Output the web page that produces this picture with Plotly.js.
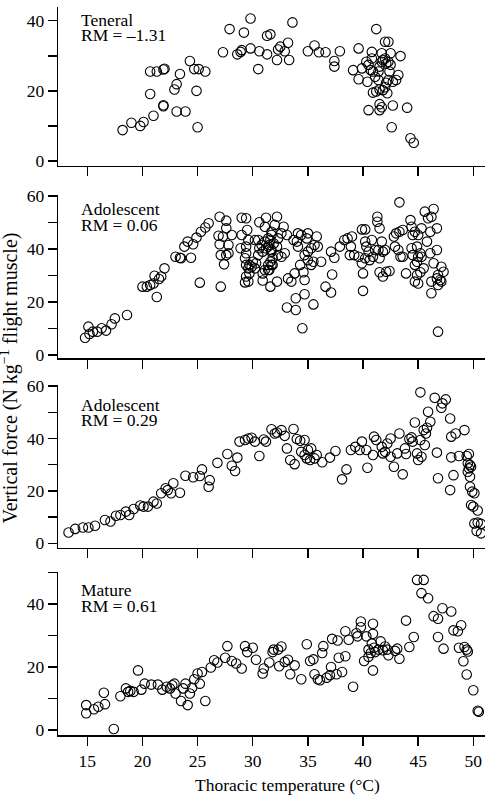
<!DOCTYPE html>
<html>
<head>
<meta charset="utf-8">
<script src="https://cdn.plot.ly/plotly-3.0.1.min.js"></script>
<style>
  html, body { margin: 0; padding: 0; background: #fff; }
  #chart { width: 488px; height: 796px; }
</style>
</head>
<body>
<div id="chart"></div>
<script>
// Thoracic temperature (°C) and vertical force (N kg^-1 flight muscle), one pair per stage

const teneralTemp = [18.2,19.0,19.8,20.1,21.0,20.7,20.7,21.3,21.9,22.0,21.9,21.9,23.1,23.9,22.9,23.1,23.4,24.3,24.7,25.1,25.7,24.9,25.0,
  27.3,27.9,28.6,28.9,29.0,29.2,29.8,29.8,30.5,30.6,31.3,31.6,31.3,33.6,33.2,32.5,32.3,32.9,32.2,33.3,35.0,35.6,36.0,36.6,37.9,37.4,37.4,
  39.6,39.1,39.6,40.4,39.9,40.3,40.8,41.2,42.0,42.3,41.7,42.5,43.4,
  40.5,40.8,40.9,41.1,41.4,41.5,41.7,41.8,42.0,42.1,42.3,42.4,42.5,42.3,42.1,42.0,41.8,41.5,41.2,40.9,42.2,42.7,43.0,43.2,41.4,40.7,
  40.5,41.5,41.5,41.7,42.7,44.0,42.6,44.3,44.6];
const teneralForce = [8.8,10.9,10.0,11.1,12.9,19.1,25.5,25.5,26.1,26.3,15.9,15.6,14.1,14.1,20.4,21.9,24.8,28.5,26.2,26.2,25.5,20.0,9.6,
  31.0,37.6,30.4,31.1,31.6,36.6,40.6,32.1,26.2,31.3,35.7,36.1,30.4,39.5,33.7,32.6,31.8,31.3,28.8,28.8,31.3,32.9,31.0,31.0,31.3,28.5,26.9,
  32.1,25.9,23.3,22.6,26.4,28.3,31.1,37.6,34.0,34.0,30.7,30.7,29.9,
  27.4,29.2,25.5,24.0,23.1,26.9,28.3,28.8,29.2,27.8,28.3,25.5,27.4,23.1,22.3,21.0,20.2,20.4,19.8,19.5,19.3,22.6,23.1,24.5,25.5,25.9,
  14.5,16.2,14.5,15.3,15.8,15.2,9.6,6.5,5.2];

const adolescentATemp = [14.8,15.1,15.2,15.5,15.9,16.3,16.7,17.2,17.5,18.6,20.0,20.4,20.7,21.0,21.1,21.5,21.7,21.3,22.0,23.0,23.4,23.5,24.4,
  23.8,24.1,24.6,24.9,25.3,25.7,26.0,25.2,27.0,27.6,27.6,26.9,27.3,28.1,27.8,27.0,27.1,27.6,27.8,27.4,27.1,
  29.0,29.4,29.5,29.0,28.9,29.4,29.6,30.2,30.5,30.6,31.2,31.1,
  29.3,29.4,29.6,29.7,29.9,30.0,30.2,30.3,30.5,30.6,30.8,30.9,31.1,31.2,31.4,31.5,31.7,31.8,31.4,31.5,31.1,30.9,29.4,29.3,29.6,29.7,29.4,31.7,31.8,30.9,31.6,
  32.2,32.0,32.8,32.6,33.1,32.3,31.7,31.6,31.4,31.9,32.2,31.7,32.3,32.6,32.9,31.6,31.7,31.4,32.2,
  33.2,33.5,33.8,34.3,34.6,34.7,34.7,33.9,33.1,33.9,35.5,34.5,33.7,34.1,34.4,34.9,35.0,35.8,35.6,35.9,35.3,35.0,34.1,34.0,34.7,35.0,35.5,35.3,36.2,
  37.1,37.4,37.9,38.3,38.6,39.0,38.9,38.8,39.2,39.6,39.9,37.2,36.6,37.1,
  39.9,40.2,40.2,40.3,40.5,40.2,40.6,40.9,40.8,41.1,41.4,41.5,40.0,40.0,41.3,41.3,41.5,41.7,41.8,42.0,41.5,41.8,42.1,42.4,
  42.8,43.0,43.3,43.6,42.9,43.2,43.4,43.6,43.9,43.3,44.3,44.4,44.5,44.7,45.0,45.3,45.6,45.9,46.4,46.2,46.7,46.1,45.8,
  44.4,44.9,44.5,45.2,45.0,45.3,44.9,44.7,46.1,46.7,45.5,45.2,44.9,44.7,45.0,46.4,47.1,47.3,46.8,46.7,47.0,47.1,46.2,46.8,46.2,46.8];
const adolescentAForce = [6.5,10.7,7.9,8.8,8.8,10.1,9.2,11.6,13.8,15.1,25.8,25.8,26.4,27.0,29.9,28.7,29.6,21.9,32.7,37.1,36.7,36.5,36.7,
  40.9,42.8,41.8,44.3,46.5,48.1,49.7,27.3,52.2,50.7,47.8,45.0,44.7,45.3,41.5,41.8,37.7,37.7,38.4,34.2,25.8,
  51.8,51.6,47.2,45.3,40.3,40.9,43.4,43.4,43.4,50.1,51.8,48.4,
  36.5,34.0,32.7,34.0,33.3,35.2,32.7,34.6,37.7,40.3,41.5,39.0,42.8,40.3,44.0,41.5,39.0,36.5,34.0,32.1,32.1,30.8,29.6,27.4,27.7,30.8,38.4,45.3,34.0,28.1,25.8,
  52.2,49.1,48.4,45.9,45.3,44.0,46.5,43.4,40.9,42.1,40.9,39.6,37.7,37.1,38.4,35.2,34.0,32.1,27.7,
  28.9,27.7,30.8,34.0,31.2,28.3,22.9,21.4,17.9,17.0,19.1,10.1,43.4,45.9,45.3,44.0,45.9,44.7,41.5,40.9,40.3,39.0,40.9,42.8,37.7,35.8,35.2,34.0,35.2,
  39.0,36.7,40.9,43.4,44.0,44.7,40.9,37.7,37.7,37.1,34.6,30.4,25.8,23.6,
  47.4,47.4,42.8,40.9,39.0,36.5,35.8,37.1,43.4,39.6,39.6,36.5,30.8,24.2,52.2,50.3,47.8,42.8,39.0,39.6,31.2,29.6,31.4,31.7,
  44.7,45.9,46.5,47.2,40.9,39.6,37.1,37.1,30.8,57.6,50.9,48.4,45.3,46.5,45.3,47.8,54.1,51.6,55.1,52.2,47.8,46.5,42.8,
  40.3,40.9,37.7,38.4,37.1,37.1,35.2,34.0,38.4,39.6,32.7,31.2,30.2,27.7,27.0,34.6,33.3,31.4,30.2,28.9,28.3,27.7,27.7,26.4,23.3,8.8];

const adolescentBTemp = [13.3,13.9,14.6,15.1,15.7,16.6,17.1,17.6,18.0,18.5,18.8,19.2,19.8,20.1,20.5,21.0,21.3,21.7,22.1,22.3,22.6,22.8,23.4,
  23.9,24.6,25.2,25.4,26.1,26.0,26.8,27.7,28.1,28.4,28.6,28.8,29.3,29.6,29.9,30.2,31.0,31.2,30.6,31.7,32.0,
  32.2,32.6,32.9,33.7,34.0,34.3,34.7,33.1,33.4,33.8,34.4,34.7,35.0,35.3,34.9,35.2,35.6,35.8,36.3,37.0,37.5,38.5,38.1,
  38.9,39.3,39.7,39.9,40.3,40.4,40.9,41.0,41.2,41.7,41.8,42.0,42.2,42.5,42.5,42.8,43.1,43.3,43.6,43.8,43.9,
  44.2,44.4,44.5,44.7,44.9,45.0,45.2,45.3,45.5,45.6,45.7,45.8,45.9,46.1,45.2,46.5,47.1,47.2,47.5,47.9,46.7,46.8,47.9,
  48.0,48.4,48.0,48.7,48.2,49.2,49.4,49.6,49.5,49.7,49.6,49.8,49.5,49.7,49.7,49.9,50.1,49.8,50.0,50.4,50.1,50.4,50.7,50.3,50.7];
const adolescentBForce = [4.1,5.5,6.0,6.0,6.7,8.9,8.3,10.5,10.8,12.1,10.8,13.1,14.4,14.0,14.0,15.9,15.2,19.1,21.0,20.3,19.1,22.9,19.3,
  25.8,25.2,25.7,28.2,24.1,21.6,30.7,34.1,29.6,27.6,32.7,38.8,39.4,40.0,40.3,38.8,39.6,38.8,33.3,43.5,41.9,
  42.3,43.2,41.0,43.6,39.8,39.1,39.4,36.2,31.8,30.2,34.9,33.7,35.6,36.2,32.4,31.8,32.4,33.7,30.9,32.7,35.2,28.2,24.4,
  35.6,36.8,35.6,38.8,35.6,28.8,33.7,40.7,39.4,36.8,34.3,34.9,38.1,40.0,33.0,29.2,34.3,41.9,26.3,36.2,34.1,
  39.8,40.4,38.8,46.1,34.3,31.8,39.4,33.0,43.2,37.5,41.9,44.1,50.2,46.4,57.6,55.5,51.7,53.4,54.9,47.6,34.6,24.8,20.3,
  40.7,41.9,32.8,33.3,26.0,43.2,33.3,34.1,30.5,29.9,28.6,29.2,27.3,25.4,21.6,19.7,19.1,14.6,14.0,12.5,7.6,7.9,7.4,4.7,3.8];

const matureTemp = [14.9,14.9,15.6,16.0,16.6,16.5,17.4,18.0,18.5,18.7,18.9,19.2,19.6,19.9,20.2,20.8,21.4,21.8,22.2,22.5,22.7,22.9,23.0,
  23.5,23.7,23.9,24.1,24.3,24.5,24.7,25.0,25.2,25.4,25.7,26.2,26.5,26.8,27.5,27.7,28.1,28.5,29.0,29.3,29.5,30.0,30.3,30.9,31.0,31.5,31.8,31.9,
  32.3,32.6,32.4,32.9,33.2,33.8,33.4,34.4,34.9,35.2,35.5,36.3,36.4,35.6,35.9,36.1,36.7,37.0,37.1,37.2,37.6,37.7,37.8,38.1,38.4,38.4,38.7,
  39.1,39.4,39.5,39.8,39.8,40.1,40.3,40.5,40.5,40.7,40.8,40.9,40.9,40.9,41.0,41.1,41.4,41.6,41.8,42.0,42.2,42.3,43.1,42.9,43.3,43.9,44.2,44.6,
  44.9,45.5,45.3,45.9,46.4,46.8,47.2,48.0,46.8,47.3,48.2,48.6,48.9,48.7,49.2,49.4,49.5,49.1,49.4,50.0,50.4,50.5];
const matureForce = [7.9,5.3,6.6,7.4,8.2,11.8,0.3,10.7,13.2,12.1,12.4,12.1,18.9,12.8,14.7,14.4,14.4,12.8,13.7,13.2,14.2,14.7,11.6,
  9.2,13.2,14.7,7.9,11.6,13.4,16.1,17.9,14.7,18.4,9.2,19.8,22.1,21.4,22.9,26.6,21.9,21.1,19.5,26.6,24.7,26.1,22.3,17.9,19.5,21.4,24.7,25.5,
  25.5,26.5,20.2,21.6,22.3,20.5,17.7,16.1,27.2,21.9,22.4,24.4,26.6,17.7,16.1,15.8,16.6,17.4,20.0,28.9,17.7,28.4,22.9,18.4,23.4,31.3,28.6,
  13.7,30.7,29.7,34.4,32.6,21.9,29.7,25.5,23.2,24.4,27.4,33.7,30.5,18.9,26.1,24.7,25.5,28.1,25.3,26.5,25.5,23.7,25.8,25.1,22.6,34.7,26.3,29.5,
  47.6,47.6,43.4,41.8,36.1,35.3,38.6,37.6,29.5,25.8,31.6,31.3,33.2,26.1,26.3,25.5,24.9,21.8,17.6,12.6,6.1,5.8];

// Panel captions
const stageNames = ['Teneral', 'Adolescent', 'Adolescent', 'Mature'];
const rmLabels = ['RM = –1.31', 'RM = 0.06', 'RM = 0.29', 'RM = 0.61'];

// Axis tick values and titles
const tempTicks = [15, 20, 25, 30, 35, 40, 45, 50];
const xTitle = 'Thoracic temperature (°C)';
const yTitle = 'Vertical force (N kg<sup>−1</sup> flight muscle)';

const seriesTemp = [teneralTemp, adolescentATemp, adolescentBTemp, matureTemp];
const seriesForce = [teneralForce, adolescentAForce, adolescentBForce, matureForce];

// ---- geometry (pixels on a 488 x 796 page) ----
const W = 488, H = 796;
const fx = p => p / W;
const fy = p => (H - p) / H;
const FONT = "'Liberation Serif', 'Times New Roman', Times, serif";

// top/bottom pixel edges of each panel and its force range
const panelPx = [[6.7, 165.7], [194.5, 358.3], [385, 547.7], [571.7, 735]];
const panelRange = [[-1.34, 43.98], [-1.25, 60.57], [-1.68, 60.4], [-1.58, 50.2]];

const traces = seriesTemp.map((xs, i) => ({
  type: 'scatter',
  mode: 'markers',
  x: xs,
  y: seriesForce[i],
  xaxis: i === 0 ? 'x' : 'x' + (i + 1),
  yaxis: i === 0 ? 'y' : 'y' + (i + 1),
  marker: { symbol: 'circle-open', size: 9.5, color: '#000', line: { width: 1.1 } },
  hoverinfo: 'x+y'
}));

const layout = {
  width: W, height: H,
  margin: { l: 0, r: 0, t: 0, b: 0, pad: 0 },
  paper_bgcolor: '#fff', plot_bgcolor: '#fff',
  showlegend: false,
  font: { family: FONT, size: 17, color: '#000' },
  annotations: []
};

const labelCenters = [[20.5, 35], [209, 224.5], [404.5, 420.5], [590.5, 606]];
const textFont = { family: FONT, size: 17.5, color: '#000' };

for (let i = 0; i < 4; i++) {
  const sfx = i === 0 ? '' : String(i + 1);
  layout['xaxis' + sfx] = {
    domain: [fx(58.3), fx(485)],
    range: [12.37, 51.06],
    anchor: 'y' + sfx,
    tickvals: tempTicks,
    ticks: 'outside', ticklen: 9, tickwidth: 1.5, tickcolor: '#000',
    showline: true, linewidth: 1.5, linecolor: '#000',
    showgrid: false, zeroline: false,
    showticklabels: i === 3,
    tickfont: textFont,
    fixedrange: true
  };
  layout['yaxis' + sfx] = {
    domain: [fy(panelPx[i][1]), fy(panelPx[i][0])],
    range: panelRange[i],
    anchor: 'x' + sfx,
    tick0: 0, dtick: 20,
    ticks: 'outside', ticklen: 9, tickwidth: 1.5, tickcolor: '#000',
    minor: { tick0: 0, dtick: 10, ticks: 'outside', ticklen: 9, tickwidth: 1.5, tickcolor: '#000', showgrid: false },
    showline: true, linewidth: 1.5, linecolor: '#000',
    showgrid: false, zeroline: false,
    tickfont: textFont,
    fixedrange: true
  };
  layout.annotations.push({
    xref: 'paper', yref: 'paper', x: fx(79), y: fy(labelCenters[i][0]),
    xanchor: 'left', yanchor: 'middle', showarrow: false,
    text: stageNames[i], font: textFont
  });
  layout.annotations.push({
    xref: 'paper', yref: 'paper', x: fx(79), y: fy(labelCenters[i][1]),
    xanchor: 'left', yanchor: 'middle', showarrow: false,
    text: rmLabels[i], font: textFont
  });
}

layout.annotations.push({
  xref: 'paper', yref: 'paper', x: fx(287), y: fy(785),
  xanchor: 'center', yanchor: 'middle', showarrow: false,
  text: xTitle, font: textFont
});
layout.annotations.push({
  xref: 'paper', yref: 'paper', x: fx(8.5), y: fy(378),
  xanchor: 'center', yanchor: 'middle', showarrow: false, textangle: -90,
  text: yTitle, font: { family: FONT, size: 20, color: '#000' }
});

Plotly.newPlot('chart', traces, layout, { displayModeBar: false, staticPlot: true });
</script>
</body>
</html>
